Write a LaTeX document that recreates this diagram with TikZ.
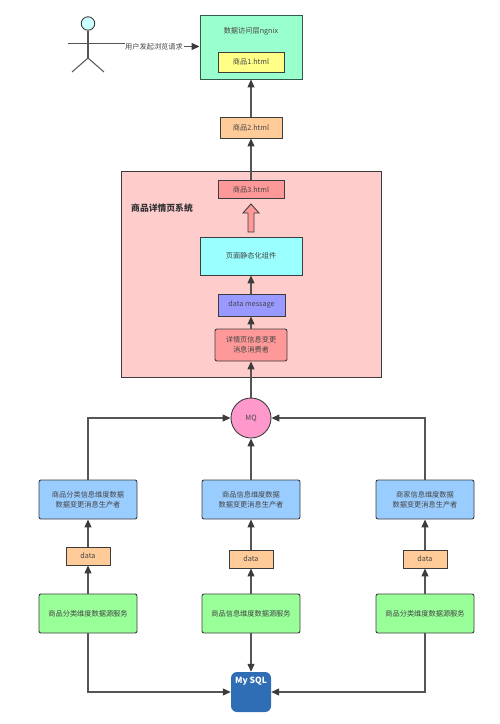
\documentclass[tikz,border=0pt]{standalone}
\usepackage{fontspec}
\setmainfont{Noto Sans CJK SC}
\usetikzlibrary{arrows.meta}
\definecolor{edge}{HTML}{3C3C3C}
\definecolor{wire}{HTML}{555555}
\definecolor{txt}{HTML}{444444}
\tikzset{
  x=1pt,y=-1pt,
  boxbase/.style={draw=edge,line width=0.9pt,anchor=center,align=center,text=txt,font=\fontsize{7.2}{10}\selectfont,inner sep=0pt},
  plainbox/.style={boxbase,rectangle},
  roundbox/.style={boxbase,rectangle,rounded corners=2pt},
  conn/.style={draw=wire,line width=1.2pt,-{Triangle[length=8pt,width=7pt,color=edge]}},
  seg/.style={draw=wire,line width=1.2pt},
}
\begin{document}
\begin{tikzpicture}
\useasboundingbox (0,0) rectangle (500,724);
% nginx
\node[plainbox,fill={rgb,255:red,153;green,255;blue,204},draw={rgb,255:red,50;green,90;blue,75},minimum width=102pt,minimum height=64pt] (nginx) at (251,47) {};
\node[text=txt,font=\fontsize{7.2}{10}\selectfont,inner sep=0pt] (nginxlabel) at (251,31) {数据访问层ngnix};
\node[plainbox,fill={rgb,255:red,255;green,255;blue,136},minimum width=66pt,minimum height=20pt] (h1) at (251,62) {商品1.html};
\node[plainbox,fill={rgb,255:red,255;green,204;blue,153},minimum width=62pt,minimum height=21pt] (h2) at (251,127.5) {商品2.html};
% system
\node[plainbox,fill={rgb,255:red,255;green,204;blue,204},minimum width=260pt,minimum height=206pt] (sys) at (251,274) {};
\node[text=black!80,font=\bfseries\fontsize{8.8}{10}\selectfont,inner sep=0pt] (syslabel) at (162,208.5) {商品详情页系统};
\node[plainbox,fill={rgb,255:red,255;green,153;blue,153},minimum width=66pt,minimum height=17.5pt] (h3) at (251,189.5) {商品3.html};
\node[plainbox,fill={rgb,255:red,153;green,255;blue,255},minimum width=102pt,minimum height=38pt] (static) at (251,256) {页面静态化组件};
\node[plainbox,fill={rgb,255:red,153;green,153;blue,255},minimum width=67pt,minimum height=22pt] (msg) at (251.5,305) {data message};
\node[roundbox,fill={rgb,255:red,255;green,153;blue,153},minimum width=72pt,minimum height=32pt] (cons) at (251,345) {详情页信息变更\\消息消费者};
% MQ
\node[boxbase,circle,fill={rgb,255:red,255;green,153;blue,204},minimum size=40pt] (mq) at (251,418) {MQ};
% producers
\node[roundbox,fill={rgb,255:red,153;green,204;blue,255},minimum width=98pt,minimum height=39pt] (p1) at (88,499.5) {商品分类信息维度数据\\数据变更消息生产者};
\node[roundbox,fill={rgb,255:red,153;green,204;blue,255},minimum width=98pt,minimum height=39pt] (p2) at (251,499.5) {商品信息维度数据\\数据变更消息生产者};
\node[roundbox,fill={rgb,255:red,153;green,204;blue,255},minimum width=98pt,minimum height=39pt] (p3) at (425,499.5) {商家信息维度数据\\数据变更消息生产者};
% data
\node[plainbox,fill={rgb,255:red,255;green,204;blue,153},minimum width=44pt,minimum height=18pt] (d1) at (88,556) {data};
\node[plainbox,fill={rgb,255:red,255;green,204;blue,153},minimum width=44pt,minimum height=18pt] (d2) at (251,559) {data};
\node[plainbox,fill={rgb,255:red,255;green,204;blue,153},minimum width=44pt,minimum height=18pt] (d3) at (425,559) {data};
% services
\node[roundbox,fill={rgb,255:red,153;green,255;blue,153},minimum width=98pt,minimum height=39pt] (s1) at (88,613.5) {商品分类维度数据源服务};
\node[roundbox,fill={rgb,255:red,153;green,255;blue,153},minimum width=98pt,minimum height=39pt] (s2) at (251,613.5) {商品信息维度数据源服务};
\node[roundbox,fill={rgb,255:red,153;green,255;blue,153},minimum width=98pt,minimum height=39pt] (s3) at (425,613.5) {商品分类维度数据源服务};
% MySQL
\node[draw=none,fill={rgb,255:red,47;green,109;blue,181},rounded corners=6pt,minimum width=40pt,minimum height=40pt,inner sep=0pt] (db) at (251,692) {};
\node[text=white,font=\bfseries\fontsize{8.5}{10}\selectfont,inner sep=0pt] (dblabel) at (251,681) {My SQL};
% person
\node[draw=edge,line width=0.9pt,circle,fill={rgb,255:red,204;green,255;blue,255},minimum size=13.5pt,inner sep=0pt] (head) at (88,23.5) {};
\coordinate (hip) at (88,58);
\coordinate (armL) at (68,43.5);
\coordinate (armR) at (125,43.5);
\coordinate (legL) at (72,72);
\coordinate (legR) at (104,72);
\draw[seg] (head) -- (hip);
\draw[seg,line width=1pt] (legL) -- (hip) -- (legR);
\draw[seg,line width=1pt] (armL) -- (armR);
\node[text=txt,font=\fontsize{7.2}{10}\selectfont,fill=white,inner sep=0.5pt] (req) at (154,46.5) {用户发起浏览请求};
\draw[conn] (req.east) -- (nginx.west |- req.east);
% connectors
\draw[conn] (h2) -- (nginx);
\draw[conn] (h3) -- (h2);
\draw[conn] (msg.north -| static) -- (static);
\draw[conn] (cons) -- (msg.south -| cons);
\draw[conn] (mq) -- (cons);
\draw[conn] (p1) |- (mq);
\draw[conn] (p2) -- (mq);
\draw[conn] (p3) |- (mq);
\draw[conn] (d1) -- (p1);
\draw[conn] (d2) -- (p2);
\draw[conn] (d3) -- (p3);
\draw[conn] (s1) -- (d1);
\draw[conn] (s2) -- (d2);
\draw[conn] (s3) -- (d3);
\draw[conn] (s1) |- (db);
\draw[conn] (s2) -- (db);
\draw[conn] (s3) |- (db);
% hollow arrow
\draw[draw=edge,line width=0.9pt,fill={rgb,255:red,255;green,153;blue,153}]
  (248,232) -- (254,232) -- (254,213) -- (259,213) -- (251,204) -- (243,213) -- (248,213) -- cycle;
\end{tikzpicture}
\end{document}
